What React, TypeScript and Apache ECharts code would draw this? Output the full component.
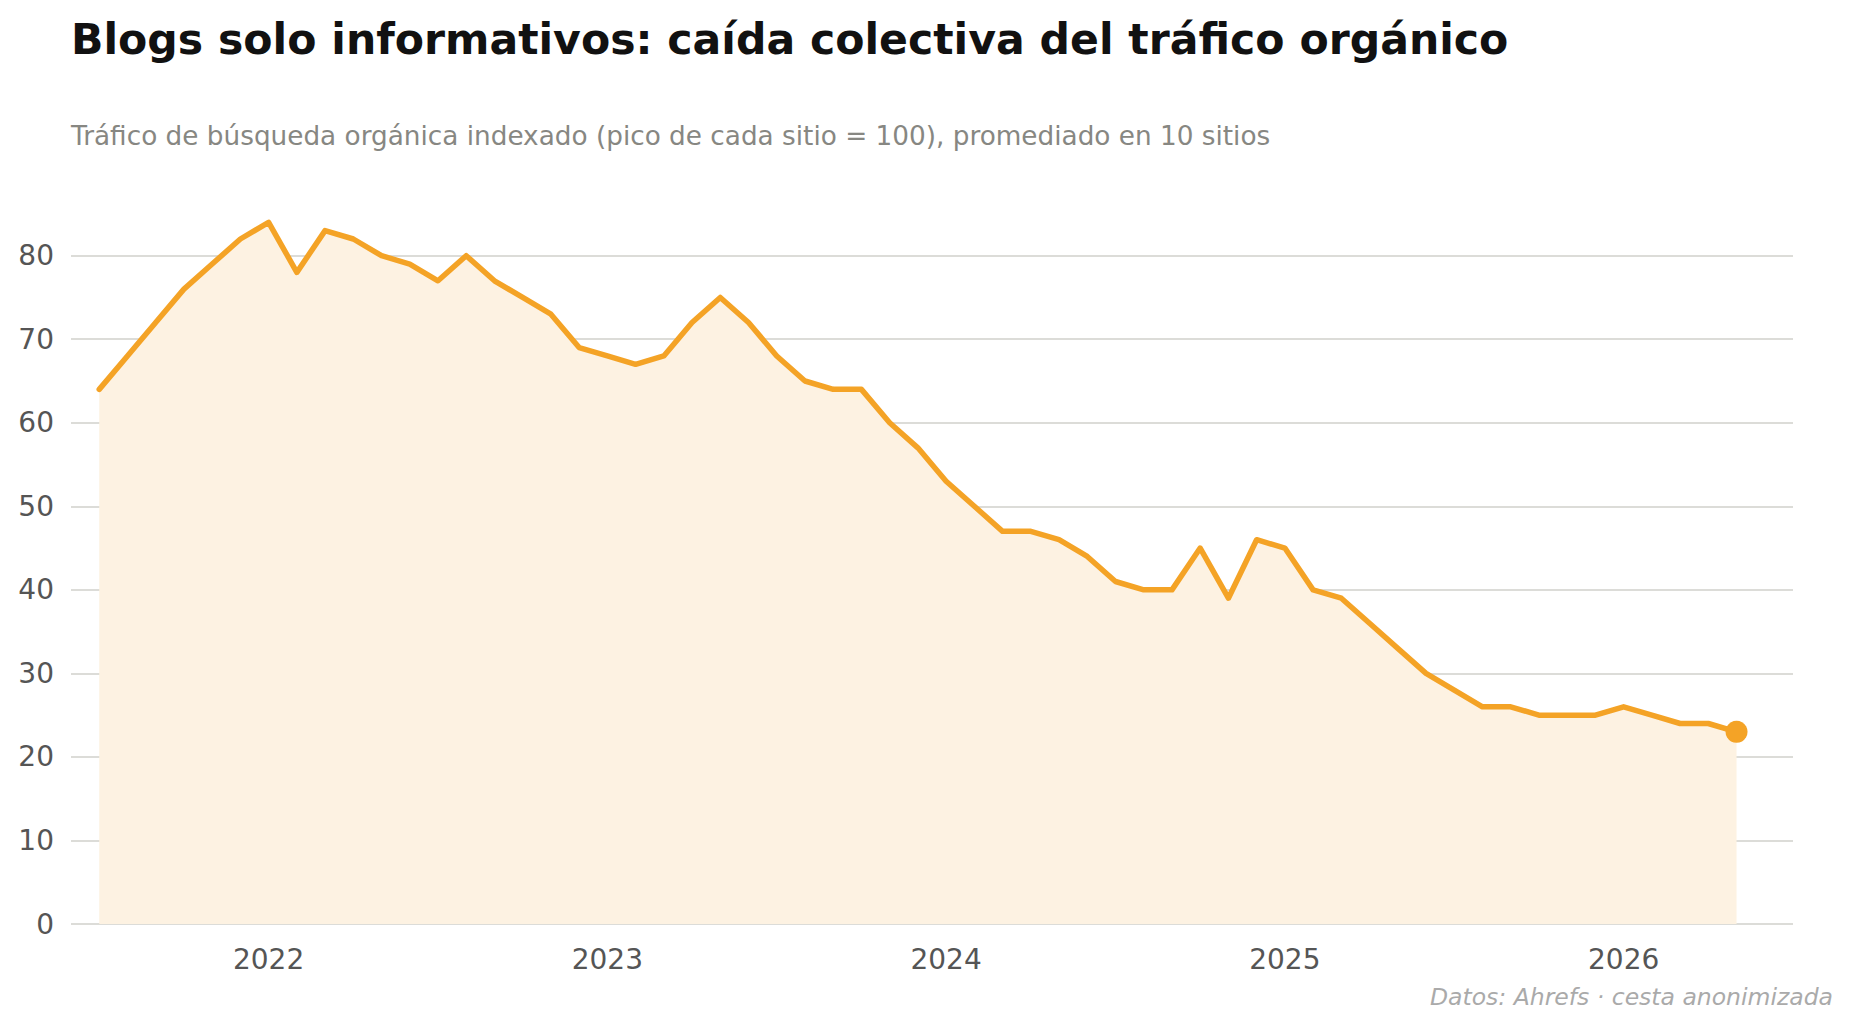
import React, { useEffect, useRef } from "react";
import * as echarts from "echarts";

const TITLE = "Blogs solo informativos: caída colectiva del tráfico orgánico";
const SUBTITLE =
  "Tráfico de búsqueda orgánica indexado (pico de cada sitio = 100), promediado en 10 sitios";
const SOURCE = "Datos: Ahrefs · cesta anonimizada";

const months = [
  "2021-07", "2021-08", "2021-09", "2021-10", "2021-11", "2021-12",
  "2022-01", "2022-02", "2022-03", "2022-04", "2022-05", "2022-06",
  "2022-07", "2022-08", "2022-09", "2022-10", "2022-11", "2022-12",
  "2023-01", "2023-02", "2023-03", "2023-04", "2023-05", "2023-06",
  "2023-07", "2023-08", "2023-09", "2023-10", "2023-11", "2023-12",
  "2024-01", "2024-02", "2024-03", "2024-04", "2024-05", "2024-06",
  "2024-07", "2024-08", "2024-09", "2024-10", "2024-11", "2024-12",
  "2025-01", "2025-02", "2025-03", "2025-04", "2025-05", "2025-06",
  "2025-07", "2025-08", "2025-09", "2025-10", "2025-11", "2025-12",
  "2026-01", "2026-02", "2026-03", "2026-04", "2026-05",
];

const traffic = [
  64, 68, 72, 76, 79, 82,
  84, 78, 83, 82, 80, 79,
  77, 80, 77, 75, 73, 69,
  68, 67, 68, 72, 75, 72,
  68, 65, 64, 64, 60, 57,
  53, 50, 47, 47, 46, 44,
  41, 40, 40, 45, 39, 46,
  45, 40, 39, 36, 33, 30,
  28, 26, 26, 25, 25, 25,
  26, 25, 24, 24, 23,
];

const yTicks = [0, 10, 20, 30, 40, 50, 60, 70, 80];

const ORANGE = "#F4A326";
const FILL = "#FDF2E2";
const FONT = "DejaVu Sans";

export default function App() {
  const ref = useRef<HTMLDivElement>(null);

  useEffect(() => {
    document.body.style.margin = "0";
    if (!ref.current) return;
    const chart = echarts.init(ref.current, undefined, { renderer: "svg" });

    const lineData = traffic.map((v, i) => [i, v]);
    const lastIdx = traffic.length - 1;
    const yearTickIdx = months
      .map((m, i) => (m.endsWith("-01") ? i : -1))
      .filter((i) => i >= 0);

    chart.setOption({
      animation: false,
      backgroundColor: "#ffffff",
      grid: { left: 71, right: 58, top: 255.7, bottom: 103, containLabel: false },
      xAxis: {
        type: "value",
        min: -1,
        max: months.length + 1,
        axisLine: { show: false },
        axisTick: { show: false },
        splitLine: { show: false },
        axisLabel: {
          customValues: yearTickIdx,
          formatter: (v: number) => months[Math.round(v)]?.slice(0, 4) ?? "",
          fontFamily: FONT,
          fontSize: 28,
          color: "#555555",
          margin: 21,
        },
      },
      yAxis: {
        type: "value",
        min: yTicks[0],
        max: yTicks[yTicks.length - 1],
        interval: 10,
        axisLine: { show: false },
        axisTick: { show: false },
        axisLabel: {
          fontFamily: FONT,
          fontSize: 28,
          color: "#555555",
          margin: 17,
          padding: [7, 0, 0, 0],
        },
        splitLine: { lineStyle: { color: "#dcdcd8", width: 2 } },
      },
      series: [
        {
          type: "line",
          data: lineData,
          clip: false,
          showSymbol: false,
          symbol: "none",
          lineStyle: { color: ORANGE, width: 5.5, cap: "round", join: "round" },
          areaStyle: { color: FILL, opacity: 1 },
          z: 2,
        },
        {
          type: "scatter",
          data: [[lastIdx, traffic[lastIdx]]],
          symbol: "circle",
          symbolSize: 22,
          itemStyle: { color: ORANGE, opacity: 1 },
          z: 3,
        },
      ],
      graphic: [
        {
          type: "text",
          left: 71,
          top: 17.5,
          style: {
            text: TITLE,
            font: `bold 42.6px "${FONT}"`,
            fill: "#111111",
          },
        },
        {
          type: "text",
          left: 71,
          top: 122.5,
          style: {
            text: SUBTITLE,
            font: `26.3px "${FONT}"`,
            fill: "#878782",
          },
        },
        {
          type: "text",
          right: 18,
          top: 985,
          style: {
            text: SOURCE,
            font: `italic 23.5px "${FONT}"`,
            fill: "#aaaaaa",
          },
        },
      ],
    });

    return () => chart.dispose();
  }, []);

  return <div ref={ref} style={{ width: 1851, height: 1027 }} />;
}
